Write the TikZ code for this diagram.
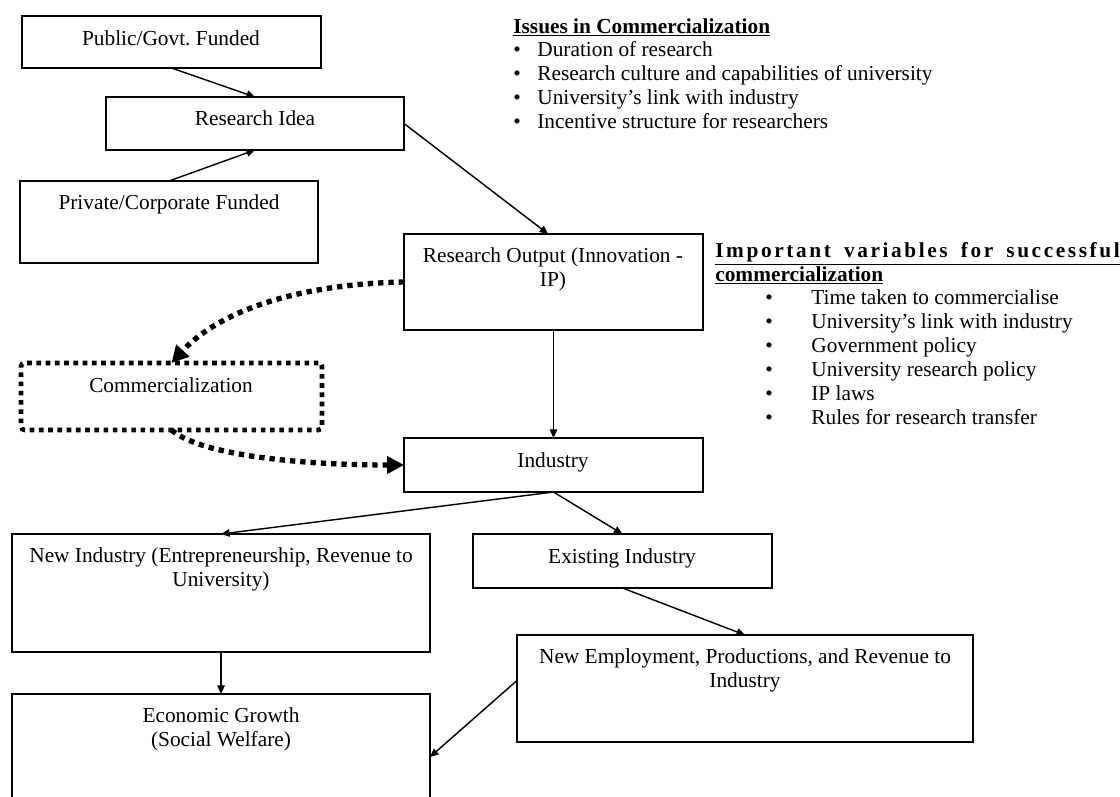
\documentclass[tikz,border=0pt]{standalone}
\usepackage{fontspec}
\setmainfont{Liberation Serif}
\usetikzlibrary{arrows.meta,calc}
\frenchspacing
\newcommand\drawbox[6][box]{%
  \node[#1, anchor=north west, minimum width={(#5-#3)*0.5625pt}, minimum height={(#6-#4)*0.5625pt}] (#2) at (#3,#4) {};}
\tikzset{
  box/.style={draw, line width=1.1pt, rectangle, inner sep=0pt, outer sep=0pt},
  dotbox/.style={draw, line width=2.6pt, dash pattern=on 2.6pt off 2.6pt, rounded corners=2pt, inner sep=0pt, outer sep=0pt},
  txt/.style={anchor=base, align=center, inner sep=0pt, font=\fontsize{12}{13}\selectfont},
  ltxt/.style={anchor=base west, inner sep=0pt, font=\fontsize{12}{13}\selectfont},
  arr/.style={line width=0.8pt, -{Triangle[length=4.8pt,width=4.2pt]}},
  dotarr/.style={line width=3pt, dash pattern=on 3pt off 2.8pt, -{Triangle[length=9.5pt,width=9.5pt]}},
}
\begin{document}
\begin{tikzpicture}[x=0.5625pt, y=-0.5625pt]
\useasboundingbox (0,0) rectangle (1120,796);
\clip (0,0) rectangle (1120,796);
% boxes
\drawbox{pub}{22}{16}{321}{68}
\drawbox{idea}{106}{97}{404}{150}
\drawbox{priv}{20}{181}{318}{263}
\drawbox{ro}{404}{234}{703}{330}
\drawbox[dotbox]{comm}{21}{363}{322}{430}
\drawbox{ind}{404}{438}{703}{492}
\drawbox{ni}{12}{534}{430}{652}
\drawbox{ex}{473}{534}{772}{588}
\drawbox{ne}{517}{635}{973}{742}
\drawbox{eg}{12}{694}{430}{820}
% box texts (multi-line: base = last line)
\node[txt] (pubT) at (171,45) {Public/Govt. Funded};
\node[txt] (ideaT) at (255,125) {Research Idea};
\node[txt] (privT) at (169,209) {Private/Corporate Funded};
\node[txt] (roT) at (553,286) {Research Output (Innovation -\\IP)};
\node[txt] (commT) at (171,392) {Commercialization};
\node[txt] (indT) at (553,467) {Industry};
\node[txt] (niT) at (221,586) {New Industry (Entrepreneurship, Revenue to\\University)};
\node[txt] (exT) at (622,563) {Existing Industry};
\node[txt] (neT) at (745,687) {New Employment, Productions, and Revenue to\\Industry};
\node[txt] (egT) at (221,746) {Economic Growth\\(Social Welfare)};
% connectors
\draw[arr] (pub.south) -- (idea.north);
\draw[arr] (priv.north) -- (idea.south);
\draw[arr] (idea.east) -- ([xshift=-3pt]ro.north);
\draw[arr] (ro.south) -- (ind.north);
\draw[arr] (ind.south) -- (ni.north);
\draw[arr] (ind.south) -- (ex.north);
\draw[arr] (ex.south) -- (ne.north);
\draw[arr] (ni.south) -- (eg.north);
\draw[arr] ([yshift=4.5pt]ne.west) -- (eg.east);
\draw[dotarr] (ro.west) .. controls (300,284) and (220,310) .. (comm.north);
\draw[dotarr] (comm.south) .. controls (200,455) and (300,465) .. (ind.west);
% Issues list
\node[ltxt] (issH) at (513,33) {\underline{\textbf{Issues in Commercialization}}};
\node[ltxt] (ib1) at (513,56) {•};
\node[ltxt] (ib2) at (513,80) {•};
\node[ltxt] (ib3) at (513,104) {•};
\node[ltxt] (ib4) at (513,128) {•};
\node[ltxt] (it1) at (537,56) {Duration of research};
\node[ltxt] (it2) at (537,80) {Research culture and capabilities of university};
\node[ltxt] (it3) at (537,104) {University’s link with industry};
\node[ltxt] (it4) at (537,128) {Incentive structure for researchers};
% Important variables
\node[ltxt] (impH1) at (715,257) {\underline{\makebox[227.5pt][s]{\textbf{I\hfil m\hfil p\hfil o\hfil r\hfil t\hfil a\hfil n\hfil t\hfil\ \hfil\hfil v\hfil a\hfil r\hfil i\hfil a\hfil b\hfil l\hfil e\hfil s\hfil\ \hfil\hfil f\hfil o\hfil r\hfil\ \hfil\hfil s\hfil u\hfil c\hfil c\hfil e\hfil s\hfil s\hfil f\hfil u\hfil l}}}};
\node[ltxt] (impH2) at (715,281) {\underline{\textbf{commercialization}}};
\foreach \yy/\tt [count=\i] in {304/Time taken to commercialise,328/University’s link with industry,352/Government policy,376/University research policy,400/IP laws,424/Rules for research transfer}{
  \node[ltxt] (vb\i) at (765,\yy) {•};
  \node[ltxt] (vt\i) at (811,\yy) {\tt};
}
\end{tikzpicture}
\end{document}
